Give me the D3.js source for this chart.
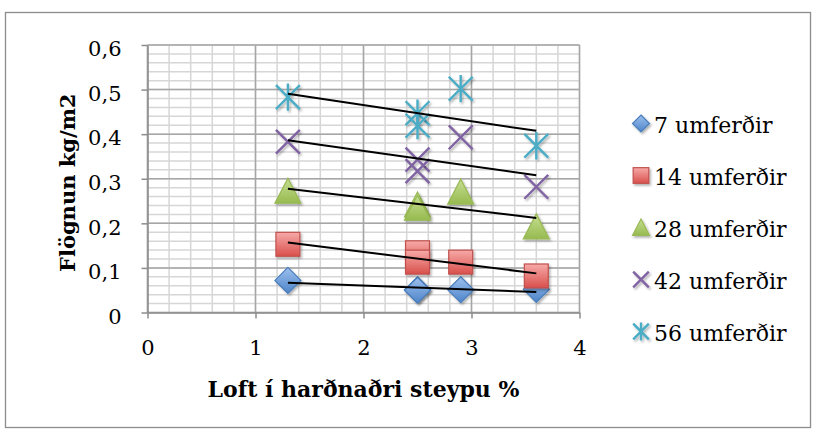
<!DOCTYPE html>
<html>
<head>
<meta charset="utf-8">
<script src="https://cdn.jsdelivr.net/npm/d3@7"></script>
<style>
  html, body { margin: 0; padding: 0; background: #fff; }
  svg { display: block; }
</style>
</head>
<body>
<svg id="chart" width="817" height="434"></svg>
<script>
// ---- data ----
const airPct = [1.3, 2.5, 2.5, 2.9, 3.6];
const seriesNames = ["7 umferðir", "14 umferðir", "28 umferðir", "42 umferðir", "56 umferðir"];
const s7  = [0.072, 0.051, 0.050, 0.051, 0.052];
const s14 = [0.153, 0.134, 0.113, 0.113, 0.082];
const s28 = [0.272, 0.241, 0.234, 0.270, 0.192];
const s42 = [0.383, 0.343, 0.317, 0.393, 0.282];
const s56 = [0.483, 0.447, 0.419, 0.502, 0.374];
const xTicks = [0, 1, 2, 3, 4];
const yTicks = [0, 0.1, 0.2, 0.3, 0.4, 0.5, 0.6];
const xTitle = "Loft í harðnaðri steypu %";
const yTitle = "Flögnun kg/m2";

const allSeries = [s7, s14, s28, s42, s56];
const markerTypes = ["diamond", "square", "triangle", "x", "star"];

const svg = d3.select("#chart");

// outer border
svg.append("rect").attr("x", 5.5).attr("y", 12.5).attr("width", 805).attr("height", 415)
  .attr("fill", "#fff").attr("stroke", "#8c8c8c").attr("stroke-width", 1.3);

const defs = svg.append("defs");
function grad(id, top, bottom) {
  const g = defs.append("linearGradient").attr("id", id).attr("x1", 0).attr("y1", 0).attr("x2", 0).attr("y2", 1);
  g.append("stop").attr("offset", "0%").attr("stop-color", top);
  g.append("stop").attr("offset", "100%").attr("stop-color", bottom);
}
grad("gBlue", "#9cc0ee", "#4f85c9");
grad("gRed", "#f6aaa8", "#d9504c");
grad("gGreen", "#c6df93", "#97ba4f");
const sh = defs.append("filter").attr("id", "shadow").attr("x", "-30%").attr("y", "-30%").attr("width", "160%").attr("height", "160%");
sh.append("feDropShadow").attr("dx", 1.5).attr("dy", 1.8).attr("stdDeviation", 1.2)
  .attr("flood-color", "#000").attr("flood-opacity", 0.3);

const x = d3.scaleLinear().domain([0, 4]).range([147.5, 579.5]);
const y = d3.scaleLinear().domain([0, 0.6]).range([312.5, 45]);

// grid
const grid = svg.append("g");
const minorX = d3.range(0, 4.0001, 0.2);
const minorY = d3.range(0, 0.6001, 0.02);
grid.selectAll(".mx").data(minorX).join("line")
  .attr("x1", d => x(d)).attr("x2", d => x(d)).attr("y1", y(0)).attr("y2", y(0.6))
  .attr("stroke", "#d6d6d6").attr("stroke-width", 1.5);
grid.selectAll(".my").data(minorY).join("line")
  .attr("x1", x(0)).attr("x2", x(4)).attr("y1", d => y(d)).attr("y2", d => y(d))
  .attr("stroke", "#d6d6d6").attr("stroke-width", 1.5);
grid.selectAll(".Mx").data(xTicks).join("line")
  .attr("x1", d => x(d)).attr("x2", d => x(d)).attr("y1", y(0)).attr("y2", y(0.6))
  .attr("stroke", "#a6a6a6").attr("stroke-width", 1.5);
grid.selectAll(".My").data(yTicks).join("line")
  .attr("x1", x(0)).attr("x2", x(4)).attr("y1", d => y(d)).attr("y2", d => y(d))
  .attr("stroke", "#a6a6a6").attr("stroke-width", 1.5);

// axes
const fmt = d => d === 0 ? "0" : d3.format(".1f")(d).replace(".", ",");
const xAxis = svg.append("g").attr("transform", `translate(0,${y(0)})`)
  .call(d3.axisBottom(x).tickValues(xTicks).tickSize(6).tickSizeOuter(0).tickFormat(d => d));
const yAxis = svg.append("g").attr("transform", `translate(${x(0)},0)`)
  .call(d3.axisLeft(y).tickValues(yTicks).tickSize(6).tickSizeOuter(0).tickFormat(fmt));
[xAxis, yAxis].forEach(a => {
  a.select(".domain").attr("stroke", "#8c8c8c").attr("stroke-width", 1.5);
  a.selectAll(".tick line").attr("stroke", "#8c8c8c").attr("stroke-width", 1.5);
  a.selectAll("text").attr("font-family", "DejaVu Serif").attr("font-size", 21).attr("fill", "#000");
});
xAxis.selectAll("text").attr("y", 42.5).attr("dy", 0);
yAxis.selectAll("text").attr("x", -26).attr("y", 4);

// axis titles
svg.append("text").attr("x", (x(0) + x(4)) / 2).attr("y", 397).attr("text-anchor", "middle")
  .attr("font-family", "DejaVu Serif").attr("font-weight", "bold").attr("font-size", 22).text(xTitle);
svg.append("text").attr("transform", `translate(75,${(y(0) + y(0.6)) / 2 + 4}) rotate(-90)`)
  .attr("text-anchor", "middle")
  .attr("font-family", "DejaVu Serif").attr("font-weight", "bold").attr("font-size", 21).text(yTitle);

// marker drawing
function drawMarker(g, type, cx, cy, s) {
  const h = s / 2;
  if (type === "diamond") {
    g.append("path").attr("d", `M${cx},${cy - h}L${cx + h},${cy}L${cx},${cy + h}L${cx - h},${cy}Z`)
      .attr("fill", "url(#gBlue)").attr("stroke", "#4a7ebb").attr("stroke-width", 1.2).attr("filter", "url(#shadow)");
  } else if (type === "square") {
    const a = h * 0.92;
    g.append("rect").attr("x", cx - a).attr("y", cy - a).attr("width", 2 * a).attr("height", 2 * a)
      .attr("fill", "url(#gRed)").attr("stroke", "#c0504d").attr("stroke-width", 1.2).attr("filter", "url(#shadow)");
  } else if (type === "triangle") {
    g.append("path").attr("d", `M${cx},${cy - h}L${cx + h},${cy + h * 0.92}L${cx - h},${cy + h * 0.92}Z`)
      .attr("fill", "url(#gGreen)").attr("stroke", "#98b954").attr("stroke-width", 1.2).attr("filter", "url(#shadow)");
  } else if (type === "x") {
    const a = h * 0.92;
    g.append("path").attr("d", `M${cx - a},${cy - a}L${cx + a},${cy + a}M${cx - a},${cy + a}L${cx + a},${cy - a}`)
      .attr("stroke", "#8064a2").attr("stroke-width", 2.4).attr("fill", "none").attr("filter", "url(#shadow)");
  } else if (type === "star") {
    const a = h * 0.92;
    g.append("path").attr("d", `M${cx - a},${cy - a}L${cx + a},${cy + a}M${cx - a},${cy + a}L${cx + a},${cy - a}M${cx},${cy - h * 1.05}L${cx},${cy + h * 1.05}`)
      .attr("stroke", "#4bacc6").attr("stroke-width", 2.4).attr("fill", "none").attr("filter", "url(#shadow)");
  }
}

const marks = svg.append("g");
allSeries.forEach((vals, si) => {
  const g = marks.append("g");
  vals.forEach((v, i) => drawMarker(g, markerTypes[si], x(airPct[i]), y(v), 26));
});

// linear trendlines (least squares)
const trend = svg.append("g");
allSeries.forEach(vals => {
  const mx = d3.mean(airPct), my = d3.mean(vals);
  const sxy = d3.sum(airPct.map((xv, i) => (xv - mx) * (vals[i] - my)));
  const sxx = d3.sum(airPct.map(xv => (xv - mx) ** 2));
  const b = sxy / sxx, a = my - b * mx;
  const [x0, x1] = d3.extent(airPct);
  trend.append("line").attr("x1", x(x0)).attr("y1", y(a + b * x0)).attr("x2", x(x1)).attr("y2", y(a + b * x1))
    .attr("stroke", "#000").attr("stroke-width", 2);
});

// legend
const leg = svg.append("g");
seriesNames.forEach((name, i) => {
  const ry = 123.5 + i * 52;
  drawMarker(leg, markerTypes[i], 641, ry, 17);
  leg.append("text").attr("x", 654).attr("y", ry + 9)
    .attr("font-family", "DejaVu Serif").attr("font-size", 22).attr("fill", "#000").text(name);
});
</script>
</body>
</html>
